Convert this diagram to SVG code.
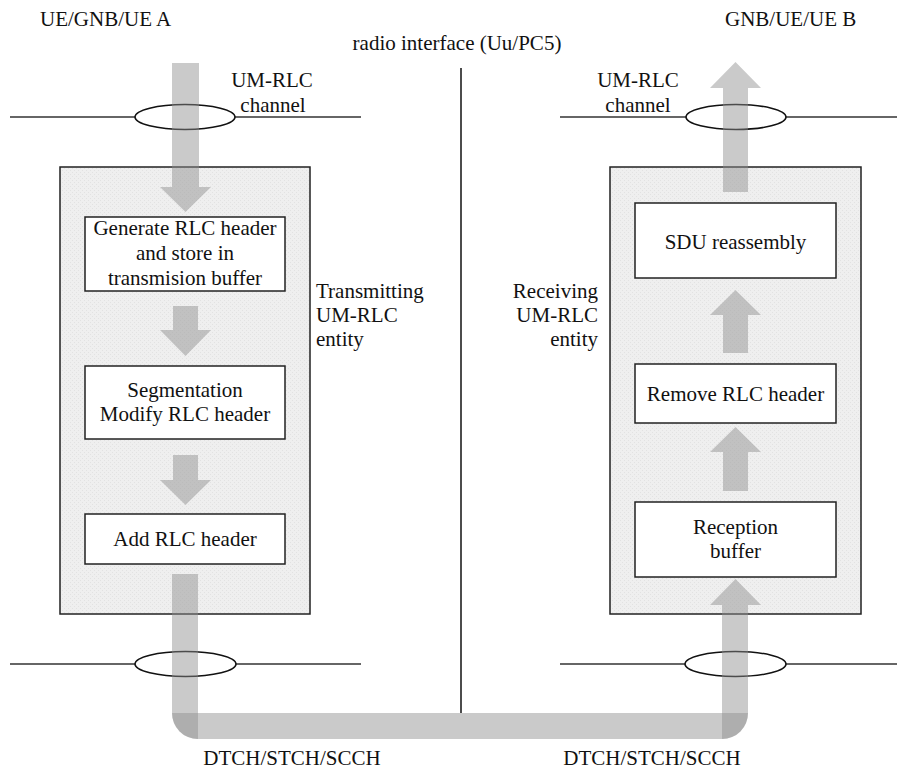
<svg xmlns="http://www.w3.org/2000/svg" width="897" height="771" viewBox="0 0 897 771" font-family="'Liberation Serif', 'DejaVu Serif', serif">
<style>
text{font-family:'Liberation Serif','DejaVu Serif',serif;font-size:21px;fill:#111}
.c{text-anchor:middle}
.e{text-anchor:end}
.ln{stroke:#333;stroke-width:1.5;fill:none}
.ell{stroke:#111;stroke-width:1.5;fill:none}
.cont{fill:url(#dots);stroke:#222;stroke-width:1.5}
.box{fill:#fff;stroke:#222;stroke-width:1.5}
.arr{fill:#8e8e8e;fill-opacity:0.47}
</style>
<defs>
<pattern id="dots" width="4" height="4" patternUnits="userSpaceOnUse">
<rect width="4" height="4" fill="#efefef"/>
<rect x="0" y="0" width="1" height="1" fill="#e2e2e2"/>
<rect x="2" y="2" width="1" height="1" fill="#e2e2e2"/>
</pattern>
</defs>

<g id="labels" font-family="'Liberation Serif', 'DejaVu Serif', serif">
<text x="40" y="26">UE/GNB/UE A</text>
<text x="725" y="26">GNB/UE/UE B</text>
<text class="c" x="457" y="50">radio interface (Uu/PC5)</text>
<text class="c" x="272" y="87">UM-RLC</text>
<text class="c" x="273" y="112">channel</text>
<text class="c" x="638" y="87">UM-RLC</text>
<text class="c" x="638" y="112">channel</text>
<text x="316" y="298">Transmitting</text>
<text x="316" y="322">UM-RLC</text>
<text x="316" y="346">entity</text>
<text class="e" x="598" y="298">Receiving</text>
<text class="e" x="598" y="322">UM-RLC</text>
<text class="e" x="598" y="346">entity</text>
<text class="c" x="292" y="765">DTCH/STCH/SCCH</text>
<text class="c" x="652" y="765">DTCH/STCH/SCCH</text>
</g>

<g id="divider">
<line class="ln" x1="461" y1="68" x2="461" y2="713" style="stroke:#111"/>
</g>

<g id="tx-entity">
<rect class="cont" x="60" y="167" width="250" height="447"/>
</g>
<g id="rx-entity">
<rect class="cont" x="610" y="167" width="251" height="447"/>
</g>

<g id="box-generate" font-family="'Liberation Serif', 'DejaVu Serif', serif">
<rect class="box" x="85" y="217" width="200" height="74"/>
<text class="c" x="185" y="235">Generate RLC header</text>
<text class="c" x="185" y="260">and store in</text>
<text class="c" x="185" y="285">transmision buffer</text>
</g>
<g id="box-segmentation" font-family="'Liberation Serif', 'DejaVu Serif', serif">
<rect class="box" x="85" y="366" width="200" height="73"/>
<text class="c" x="185" y="397">Segmentation</text>
<text class="c" x="185" y="421">Modify RLC header</text>
</g>
<g id="box-add" font-family="'Liberation Serif', 'DejaVu Serif', serif">
<rect class="box" x="85" y="514" width="200" height="50"/>
<text class="c" x="185" y="546">Add RLC header</text>
</g>
<g id="box-sdu" font-family="'Liberation Serif', 'DejaVu Serif', serif">
<rect class="box" x="635" y="203" width="201" height="75"/>
<text class="c" x="735.5" y="249">SDU reassembly</text>
</g>
<g id="box-remove" font-family="'Liberation Serif', 'DejaVu Serif', serif">
<rect class="box" x="635" y="364" width="201" height="59"/>
<text class="c" x="735.5" y="401">Remove RLC header</text>
</g>
<g id="box-reception" font-family="'Liberation Serif', 'DejaVu Serif', serif">
<rect class="box" x="635" y="502" width="201" height="75"/>
<text class="c" x="735.5" y="534">Reception</text>
<text class="c" x="735.5" y="558">buffer</text>
</g>

<g id="channels">
<line class="ln" x1="10" y1="117" x2="135" y2="117"/>
<line class="ln" x1="235" y1="117" x2="361" y2="117"/>
<ellipse class="ell" cx="185" cy="117" rx="50" ry="12.5"/>
<line class="ln" x1="560" y1="117" x2="686" y2="117"/>
<line class="ln" x1="786" y1="117" x2="897" y2="117"/>
<ellipse class="ell" cx="736" cy="117" rx="50" ry="12.5"/>
<line class="ln" x1="10" y1="664" x2="135" y2="664"/>
<line class="ln" x1="236" y1="664" x2="361" y2="664"/>
<ellipse class="ell" cx="185.5" cy="664" rx="50.5" ry="12.5"/>
<line class="ln" x1="560" y1="664" x2="685" y2="664"/>
<line class="ln" x1="786" y1="664" x2="897" y2="664"/>
<ellipse class="ell" cx="735.5" cy="664" rx="50.5" ry="12.5"/>
</g>

<g id="connectors">
<path class="arr" d="M172,63 H199 V187 H211 L185.5,212 L160,187 H172 Z"/>
<path class="arr" d="M173,306 H198 V330 H211 L185.5,356 L160,330 H173 Z"/>
<path class="arr" d="M173,455 H198 V480 H211 L185.5,505 L160,480 H173 Z"/>
<path class="arr" d="M172,574 H198 V739 A26,26 0 0 1 172,713 Z"/>
<path class="arr" d="M172,713 H748 A26,26 0 0 1 722,739 H198 A26,26 0 0 1 172,713 Z"/>
<path class="arr" d="M710,605 L735.5,579 L761,605 H748 V713 A26,26 0 0 1 722,739 V605 Z"/>
<path class="arr" d="M723,452 H710 L735.5,427 L761,452 H748 V491 H723 Z"/>
<path class="arr" d="M723,315 H710 L735.5,290 L761,315 H748 V353 H723 Z"/>
<path class="arr" d="M723,88 H710 L735.5,62 L761,88 H748 V192 H723 Z"/>
</g>
</svg>
